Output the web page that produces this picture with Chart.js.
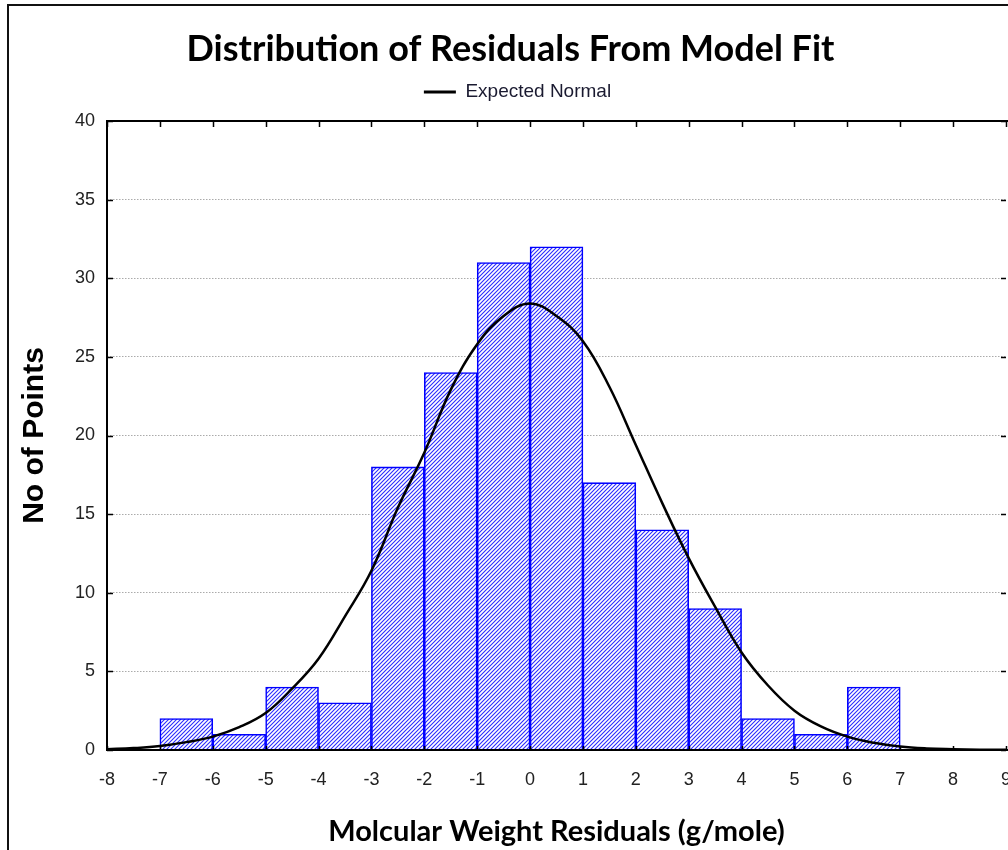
<!DOCTYPE html>
<html><head><meta charset="utf-8">
<script src="https://cdn.jsdelivr.net/npm/chart.js@4.4.1/dist/chart.umd.min.js"></script>
<style>
html,body{margin:0;padding:0;background:#fff;overflow:hidden;width:1008px;height:850px;}
#frame{position:absolute;left:7px;top:4px;width:1100px;height:900px;border-left:2px solid #111;border-top:2px solid #111;}
#wrap{position:absolute;left:0;top:0;width:1030px;height:850px;}
</style></head><body>
<div id="frame"></div>
<div id="wrap"><canvas id="c" width="1030" height="850"></canvas></div>
<script>
// Histogram bins (centres) and counts
const binCenters = [-6.5,-5.5,-4.5,-3.5,-2.5,-1.5,-0.5,0.5,1.5,2.5,3.5,4.5,5.5,6.5];
const binCounts  = [2,1,4,3,18,24,31,32,17,14,9,2,1,4];
// Expected normal curve
const curveX = [-8,-7.5,-7,-6.5,-6,-5.5,-5,-4.5,-4,-3.5,-3,-2.5,-2,-1.5,-1,-0.5,0,0.5,1,1.5,2,2.5,3,3.5,4,4.5,5,5.5,6,6.5,7,7.5,8,8.5,9];
const curveY = [0.05,0.12,0.25,0.5,0.85,1.45,2.35,3.9,5.8,8.5,11.4,15.4,18.9,22.9,25.8,27.6,28.4,27.6,26.0,23.1,19.4,15.7,12.2,9.1,6.2,4.1,2.5,1.5,0.85,0.46,0.22,0.1,0.05,0.02,0.01];
const xTicks = [-8,-7,-6,-5,-4,-3,-2,-1,0,1,2,3,4,5,6,7,8,9];
const yTicks = [0,5,10,15,20,25,30,35,40];

const canvas = document.getElementById('c');
const ctx0 = canvas.getContext('2d');
function hatch(){
  const c = document.createElement('canvas'); c.width = 4; c.height = 4;
  const g = c.getContext('2d');
  g.fillStyle = '#fff'; g.fillRect(0,0,4,4);
  g.strokeStyle = '#2b2bff'; g.lineWidth = 1.1;
  g.beginPath();
  g.moveTo(-1,5); g.lineTo(5,-1);
  g.moveTo(-1,1); g.lineTo(1,-1);
  g.moveTo(3,5); g.lineTo(5,3);
  g.stroke();
  return ctx0.createPattern(c,'repeat');
}

const frameTicks = {
  id:'frameTicks',
  afterLayout(chart){
    if (chart.legend) { chart.legend.left += 7; chart.legend.right += 7; }
  },
  afterDatasetsDraw(chart){
    const {ctx, chartArea:a, scales:{x,y}} = chart;
    ctx.save();
    ctx.strokeStyle = '#000'; ctx.lineWidth = 2;
    ctx.beginPath();
    ctx.moveTo(a.left, a.bottom); ctx.lineTo(a.right+30, a.bottom);
    ctx.moveTo(a.left, a.top); ctx.lineTo(a.right+30, a.top);
    ctx.moveTo(a.left, a.top-1); ctx.lineTo(a.left, a.bottom+1);
    ctx.stroke();
    ctx.lineWidth = 1.5;
    ctx.beginPath();
    xTicks.forEach(v => { const px = Math.round(x.getPixelForValue(v))+0.5;
      ctx.moveTo(px, a.top); ctx.lineTo(px, a.top+6);
      ctx.moveTo(px, a.bottom); ctx.lineTo(px, a.bottom-4); });
    yTicks.forEach(v => { const py = Math.round(y.getPixelForValue(v))+0.5;
      ctx.moveTo(a.left, py); ctx.lineTo(a.left+6, py);
      ctx.moveTo(a.right, py); ctx.lineTo(a.right-5, py); });
    ctx.stroke();
    ctx.restore();
  }
};

const tickFont = {family:"'Liberation Sans Narrow','Liberation Sans',sans-serif", size:18};

new Chart(canvas, {
  type:'bar',
  data:{
    datasets:[
      { type:'line', label:'Expected Normal', order:0,
        data: curveX.map((v,i)=>({x:v, y:curveY[i]})),
        borderColor:'#000', backgroundColor:'#000', borderWidth:2.5,
        pointRadius:0, tension:0.4, fill:false },
      { type:'bar', label:'Counts', order:1,
        data: binCenters.map((v,i)=>({x:v, y:binCounts[i]})),
        backgroundColor: hatch(), borderColor:'#0000ff', borderWidth:1.6,
        barPercentage:1, categoryPercentage:1, grouped:false }
    ]
  },
  options:{
    responsive:false, animation:false, devicePixelRatio:1,
    layout:{padding:{left:14, right:23, top:0, bottom:0}},
    plugins:{
      tooltip:{enabled:false},
      title:{display:true, text:'Distribution of Residuals From Model Fit', color:'#000',
        font:{family:'Lato', weight:'bold', size:36, lineHeight:1}, padding:{top:31, bottom:0}},
      legend:{display:true, position:'top',
        labels:{boxWidth:32, boxHeight:3, padding:15.5, color:'#1a1a30',
          font:{family:"'Liberation Sans',sans-serif", size:19},
          generateLabels(chart){
            const items = Chart.defaults.plugins.legend.labels.generateLabels(chart);
            return items.filter(i=>i.datasetIndex===0).map(i=>({...i, lineWidth:0, fillStyle:'#000', strokeStyle:'rgba(0,0,0,0)'}));
          }}}
    },
    scales:{
      x:{type:'linear', position:'bottom', min:-8, max:9, offset:false,
        afterFit(s){ s.height = 100; },
        ticks:{stepSize:1, font:tickFont, color:'#222', padding:19, maxRotation:0, autoSkip:false},
        grid:{display:false, drawTicks:false},
        border:{display:false},
        title:{display:true, text:'Molcular Weight Residuals (g/mole)', color:'#000',
          font:{family:'Lato', weight:'bold', size:29, lineHeight:1.2}, padding:{top:0, bottom:1}}},
      xTop:{type:'linear', position:'top', min:-8, max:9, offset:false,
        afterFit(s){ s.height = 9.5; },
        ticks:{display:false}, grid:{display:false, drawTicks:false}, border:{display:false}},
      y:{type:'linear', min:0, max:40,
        afterFit(s){ s.width = 93; },
        ticks:{stepSize:5, font:tickFont, color:'#222', padding:12},
        grid:{drawTicks:false, lineWidth:1,
          color: c => (c.tick && (c.tick.value===0 || c.tick.value===40)) ? 'rgba(0,0,0,0)' : '#ababab'},
        border:{display:false, dash:[1.5,1.5]},
        title:{display:true, text:'No of Points', color:'#000',
          font:{family:"'Liberation Sans',sans-serif", weight:'bold', size:30, lineHeight:1.2}, padding:{top:3, bottom:0}}}
    }
  },
  plugins:[frameTicks]
});
</script>
</body></html>
